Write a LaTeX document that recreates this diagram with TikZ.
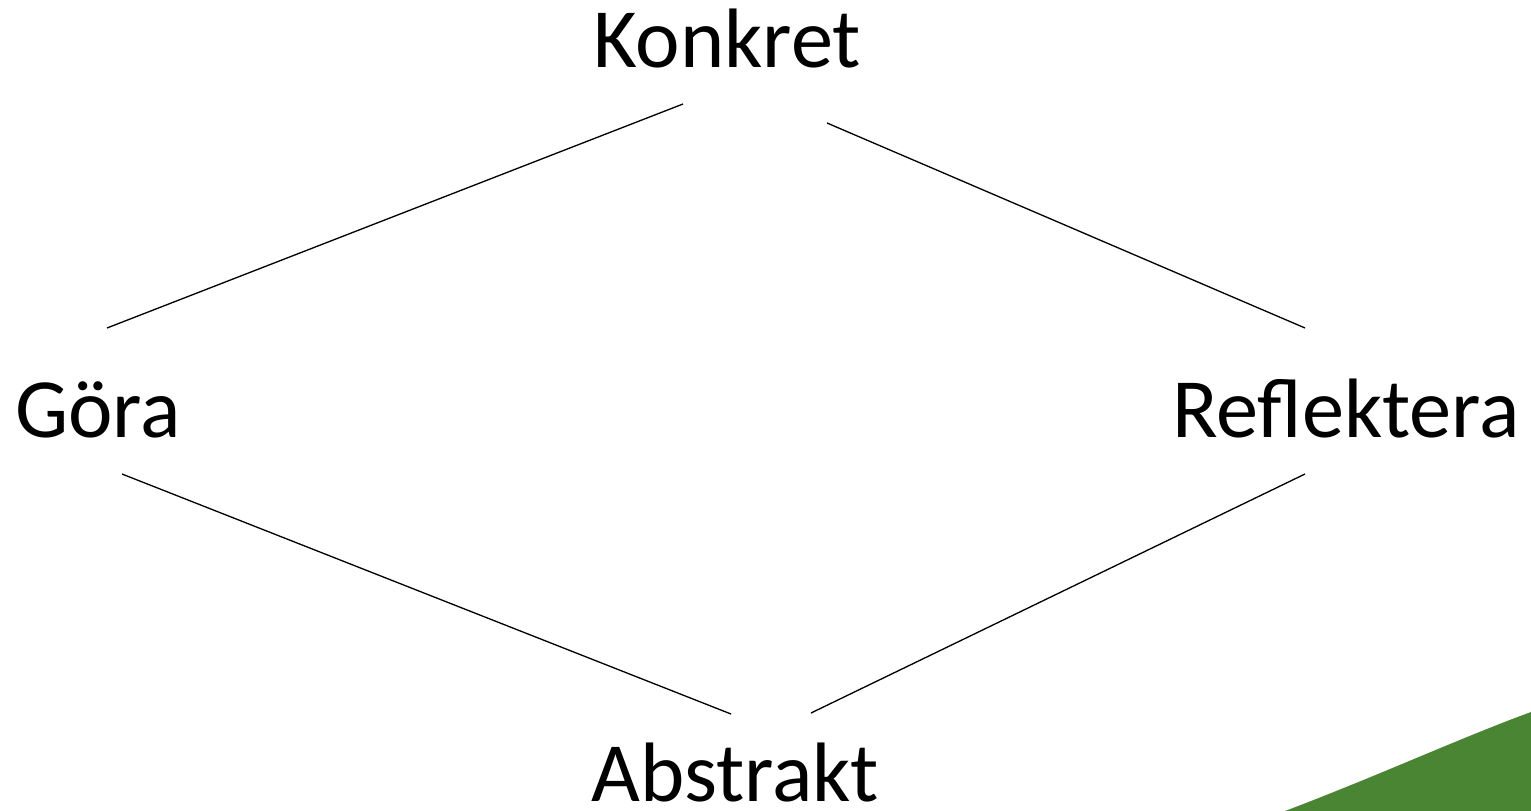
\documentclass[tikz,border=0pt]{standalone}
\usepackage{fontspec}
\setmainfont{Carlito}
\usepackage{tikz}
\usepackage{xcolor}
\definecolor{leafgreen}{HTML}{4A8533}
\tikzstyle{word} = [inner sep=0pt, anchor=base, font=\fontsize{48}{56}\selectfont]

\begin{document}
\begin{tikzpicture}[x=0.02cm,y=-0.02cm]
\useasboundingbox (0,0) rectangle (1531,811);
			\tikzset{every node/.style={word}}
\node (konkret) at (727,68) {Konkret};
\node (gora) at (98,437) {Göra};
\node (reflektera) at (1346,437) {Reflektera};
\node (abstrakt) at (735,801) {Abstrakt};

% line ends
\coordinate (k1) at (683,104);
\coordinate (k2) at (827,123);
\coordinate (g1) at (107,328);
\coordinate (g2) at (122,474);
\coordinate (r1) at (1305,328);
\coordinate (r2) at (1305,474);
\coordinate (a1) at (731,714);
\coordinate (a2) at (811,713);

\foreach \from/\to in {g1/k1,k2/r1,g2/a1,a2/r2}
{
	\draw[line width=0.75pt] (\from) -- (\to);
}

\fill[leafgreen] (1285,811) .. controls (1380,775) and (1460,738) .. (1531,712) -- (1531,811) -- cycle;
		\end{tikzpicture}
\end{document}
